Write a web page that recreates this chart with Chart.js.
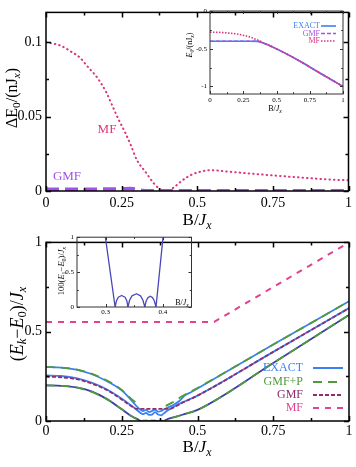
<!DOCTYPE html>
<html>
<head>
<meta charset="utf-8">
<script src="https://cdn.jsdelivr.net/npm/chart.js@4.4.0/dist/chart.umd.min.js"></script>
<style>
body { margin: 0; background: #fff; width: 356px; height: 467px; position: relative; overflow: hidden; }
canvas { position: absolute; }
</style>
</head>
<body>
<canvas id="top" width="356" height="235" style="left:0;top:0"></canvas>
<canvas id="topIn" width="178" height="120" style="left:178px;top:0"></canvas>
<canvas id="bot" width="356" height="237" style="left:0;top:230px"></canvas>
<canvas id="botIn" width="150" height="90" style="left:50px;top:230px"></canvas>
<script>
// ---- top panel: ground state energy error ----
var topMfB = [0, 0.05, 0.08, 0.11, 0.14, 0.17, 0.2, 0.22, 0.24, 0.26, 0.28, 0.3, 0.33, 0.355, 0.375, 0.39, 0.405, 0.42, 0.45, 0.485, 0.52, 0.54, 0.62, 0.73, 0.84, 0.95, 1];
var topMfV = [0.1, 0.0975, 0.094, 0.09, 0.083, 0.076, 0.066, 0.057, 0.048, 0.04, 0.031, 0.021, 0.0125, 0.0055, 0.0015, 0.0, 0.0005, 0.002, 0.007, 0.0113, 0.0134, 0.014, 0.0127, 0.0108, 0.0091, 0.0076, 0.0072];
var topGmfB = [0, 0.1, 0.2, 0.25, 0.28, 0.3, 0.32, 0.35, 0.4, 0.5, 0.75, 1];
var topGmfV = [0.0012, 0.0012, 0.0013, 0.0015, 0.0017, 0.0012, 0.0004, 0.0002, 0.0001, 0.0002, 0.0002, 0.0002];

// top inset: E0/(nJx)
var inExactB = [0, 0.1, 0.2, 0.3, 0.36, 0.4, 0.45, 0.5, 0.6, 0.7, 0.8, 0.9, 1];
var inExactV = [-0.4, -0.4, -0.4, -0.4, -0.402, -0.425, -0.46, -0.502, -0.592, -0.69, -0.795, -0.897, -1.0];
var inGmfB = [0, 0.1, 0.2, 0.3, 0.36, 0.4, 0.45, 0.5, 0.6, 0.7, 0.8, 0.9, 1];
var inGmfV = [-0.4, -0.4, -0.4, -0.4, -0.402, -0.425, -0.46, -0.502, -0.592, -0.69, -0.795, -0.897, -1.0];
var inMfB = [0, 0.1, 0.2, 0.3, 0.37, 0.4, 0.45, 0.5, 0.6, 0.7, 0.8, 0.9, 1];
var inMfV = [-0.28, -0.287, -0.305, -0.345, -0.395, -0.42, -0.458, -0.5, -0.59, -0.69, -0.795, -0.897, -1.0];

// ---- bottom panel: excitation energies ----
var exact1B = [0, 0.05, 0.1, 0.15, 0.2, 0.25, 0.28, 0.3, 0.316, 0.322, 0.328, 0.334, 0.339, 0.346, 0.354, 0.361, 0.3685, 0.374, 0.378, 0.383, 0.388, 0.4, 0.42, 0.45, 0.5, 0.75, 1];
var exact1V = [0.2, 0.197, 0.188, 0.166, 0.124, 0.066, 0.03, 0.012, 0, 0.0014, 0.0017, 0.0014, 0, 0.0016, 0.0019, 0.0016, 0, 0.0013, 0.0016, 0.0013, 0, 0.01, 0.02, 0.035, 0.062, 0.325, 0.594];
var exact2B = [0, 0.05, 0.1, 0.15, 0.2, 0.25, 0.28, 0.3, 0.31, 0.32, 0.33, 0.34, 0.35, 0.36, 0.37, 0.38, 0.39, 0.4, 0.42, 0.45, 0.5, 0.75, 1];
var exact2V = [0.255, 0.252, 0.24, 0.215, 0.178, 0.125, 0.088, 0.062, 0.048, 0.038, 0.046, 0.034, 0.036, 0.05, 0.036, 0.032, 0.044, 0.058, 0.078, 0.104, 0.142, 0.387, 0.632];
var exact3B = [0, 0.05, 0.1, 0.15, 0.2, 0.25, 0.27, 0.29, 0.3, 0.31, 0.32, 0.33, 0.34, 0.35, 0.36, 0.37, 0.38, 0.39, 0.4, 0.42, 0.44, 0.46, 0.48, 0.5, 0.75, 1];
var exact3V = [0.302, 0.299, 0.288, 0.263, 0.224, 0.172, 0.138, 0.1, 0.08, 0.066, 0.056, 0.062, 0.05, 0.056, 0.064, 0.052, 0.056, 0.066, 0.074, 0.09, 0.112, 0.145, 0.162, 0.182, 0.428, 0.67];
var gmfpHiB = [0, 0.05, 0.1, 0.15, 0.2, 0.25, 0.27, 0.29, 0.3, 0.31, 0.395, 0.42, 0.45, 0.5, 0.75, 1];
var gmfpHiV = [0.302, 0.299, 0.289, 0.265, 0.228, 0.174, 0.142, 0.112, 0.1, null, 0.085, 0.106, 0.14, 0.185, 0.428, 0.67];
var gmfpLoB = [0, 0.1, 0.2, 0.25, 0.28, 0.3, 0.32, 0.39, 0.42, 0.45, 0.5, 0.75, 1];
var gmfpLoV = [0.2, 0.188, 0.124, 0.066, 0.03, 0.012, 0, 0, 0.02, 0.035, 0.062, 0.325, 0.594];
var gmfB = [0, 0.05, 0.1, 0.15, 0.2, 0.25, 0.28, 0.3, 0.35, 0.41, 0.42, 0.45, 0.5, 0.75, 1];
var gmfV = [0.248, 0.245, 0.234, 0.21, 0.174, 0.121, 0.085, 0.068, 0.068, 0.068, 0.075, 0.102, 0.142, 0.387, 0.632];
var mfB = [0, 0.555, 1];
var mfV = [0.555, 0.555, 1];

// bottom inset: 100(E1-E0)/Jx
var gapB = [0.297, 0.3166, 0.319, 0.322, 0.328, 0.334, 0.337, 0.339, 0.342, 0.346, 0.354, 0.361, 0.365, 0.3685, 0.371, 0.374, 0.378, 0.382, 0.385, 0.388, 0.4015];
var gapV = [1.15, 0, 0.09, 0.14, 0.165, 0.14, 0.09, 0, 0.1, 0.16, 0.19, 0.16, 0.1, 0, 0.09, 0.135, 0.155, 0.135, 0.09, 0, 1.1];

// tick labels
var mainXTicks = [0, 0.25, 0.5, 0.75, 1];
var mainXLabels = ['0', '0.25', '0.5', '0.75', '1'];
var topYTicks = [0, 0.05, 0.1];
var topYLabels = ['0', '0.05', '0.1'];
var botYTicks = [0, 0.5, 1];
var botYLabels = ['0', '0.5', '1'];
var inTopYTicks = [-1, -0.5, 0];
var inTopYLabels = ['-1', '-0.5', '0'];
var inBotXTicks = [0.3, 0.4];
var inBotXLabels = ['0.3', '0.4'];

var SERIF = '"Liberation Serif", "DejaVu Serif", serif';
var BLUE = '#3b82f0', GREEN = '#4f9a3a', GMFC = '#8e2c6e', PINK = '#e0448f';
var NAVY = '#3d3da6', PURPLE = '#a252e8', MAG = '#d9367f';

function pts(xs, ys) {
  return xs.map(function (x, i) { return { x: x, y: ys[i] }; });
}

// text with italic / subscript runs
function runFont(p, size) {
  var it = p[1].indexOf('i') >= 0;
  var sub = p[1].indexOf('s') >= 0;
  return (it ? 'italic ' : '') + (sub ? size * 0.7 : size) + 'px ' + SERIF;
}
function drawRich(ctx, parts, x, y, size, color, rot, align) {
  ctx.save();
  var w = 0;
  parts.forEach(function (p) { ctx.font = runFont(p, size); w += ctx.measureText(p[0]).width; });
  ctx.translate(x, y);
  if (rot) ctx.rotate(rot);
  var cx = align === 'left' ? 0 : (align === 'right' ? -w : -w / 2);
  ctx.textAlign = 'left';
  ctx.textBaseline = 'middle';
  ctx.fillStyle = color || '#000';
  parts.forEach(function (p) {
    ctx.font = runFont(p, size);
    var dy = p[1].indexOf('s') >= 0 ? size * 0.28 : 0;
    ctx.fillText(p[0], cx, dy);
    cx += ctx.measureText(p[0]).width;
  });
  ctx.restore();
}

// box frame and inward tick marks
function frameAndTicks(chart, o) {
  var ctx = chart.ctx, a = chart.chartArea, sx = chart.scales.x, sy = chart.scales.y;
  ctx.save();
  ctx.strokeStyle = o.frameColor || '#000';
  ctx.lineWidth = o.lw;
  ctx.beginPath();
  function xt(vals, len) {
    vals.forEach(function (v) {
      var px = Math.round(sx.getPixelForValue(v)) + 0.5;
      ctx.moveTo(px, a.bottom); ctx.lineTo(px, a.bottom - len);
      ctx.moveTo(px, a.top); ctx.lineTo(px, a.top + len);
    });
  }
  function yt(vals, len) {
    vals.forEach(function (v) {
      var py = Math.round(sy.getPixelForValue(v)) + 0.5;
      ctx.moveTo(a.left, py); ctx.lineTo(a.left + len, py);
      ctx.moveTo(a.right, py); ctx.lineTo(a.right - len, py);
    });
  }
  xt(o.xMajor, o.tl); xt(o.xMinor, o.tl * 0.6);
  yt(o.yMajor, o.tl); yt(o.yMinor, o.tl * 0.6);
  ctx.stroke();
  ctx.strokeRect(a.left, a.top, a.right - a.left, a.bottom - a.top);
  ctx.restore();
}

function legendRow(ctx, text, color, y, tx, x0, x1, dash, lw, fs) {
  ctx.save();
  ctx.font = fs + 'px ' + SERIF;
  ctx.fillStyle = color;
  ctx.textAlign = 'right';
  ctx.textBaseline = 'middle';
  ctx.fillText(text, tx, y);
  ctx.strokeStyle = color;
  ctx.lineWidth = lw;
  ctx.setLineDash(dash);
  ctx.beginPath();
  ctx.moveTo(x0, y); ctx.lineTo(x1, y);
  ctx.stroke();
  ctx.restore();
}

function buildChart(id, datasets, o) {
  return new Chart(document.getElementById(id), {
    type: 'line',
    data: { datasets: datasets },
    options: {
      responsive: false,
      animation: false,
      devicePixelRatio: 1,
      events: [],
      layout: { padding: o.pad },
      plugins: { legend: { display: false }, tooltip: { enabled: false } },
      elements: { point: { radius: 0 }, line: { cubicInterpolationMode: 'monotone', borderJoinStyle: 'round' } },
      scales: {
        x: {
          type: 'linear', min: o.x[0], max: o.x[1],
          grid: { display: false, drawTicks: false }, border: { display: false },
          afterFit: function (s) { s.height = o.xH; },
          afterBuildTicks: function (s) { s.ticks = o.xTicks.map(function (v) { return { value: v }; }); },
          ticks: {
            padding: o.xPad, autoSkip: false, maxRotation: 0, color: '#000',
            font: { family: SERIF, size: o.fs },
            callback: function (v, i) { return o.xLabels[i]; }
          }
        },
        y: {
          type: 'linear', min: o.y[0], max: o.y[1],
          grid: { display: false, drawTicks: false }, border: { display: false },
          afterFit: function (s) { s.width = o.yW; },
          afterBuildTicks: function (s) { s.ticks = o.yTicks.map(function (v) { return { value: v }; }); },
          ticks: {
            padding: o.yPad, autoSkip: false, color: '#000',
            font: { family: SERIF, size: o.fs },
            callback: function (v, i) { return o.yLabels[i]; }
          }
        }
      }
    },
    plugins: [{
      id: 'deco',
      afterDraw: function (c) {
        frameAndTicks(c, o);
        if (o.extra) o.extra(c.ctx, c);
      }
    }]
  });
}

var BJ = [['B/', 'n'], ['J', 'i'], ['x', 'si']];

// top main chart
buildChart('top', [
  { data: pts(topGmfB, topGmfV), borderColor: PURPLE, borderWidth: 3.5, borderDash: [13, 6] },
  { data: pts(topMfB, topMfV), borderColor: MAG, borderWidth: 2, borderDash: [0.5, 4], borderCapStyle: 'round' }
], {
  pad: { left: 0, right: 7, top: 5, bottom: 0 }, yW: 46, xH: 44,
  x: [0, 1], y: [0, 0.12], fs: 14, xPad: 4, yPad: 4, lw: 1.5, tl: 5,
  xTicks: mainXTicks, xLabels: mainXLabels, yTicks: topYTicks, yLabels: topYLabels,
  xMajor: mainXTicks, xMinor: [0.125, 0.375, 0.625, 0.875],
  yMajor: topYTicks, yMinor: [0.025, 0.075],
  extra: function (ctx) {
    drawRich(ctx, [['ΔE', 'n'], ['0', 's'], ['/(nJ', 'n'], ['x', 'si'], [')', 'n']], 13, 98, 16, '#000', -Math.PI / 2);
    drawRich(ctx, BJ, 197, 221, 17, '#000');
    drawRich(ctx, [['MF', 'n']], 107, 130, 13, MAG);
    drawRich(ctx, [['GMF', 'n']], 67, 177, 13, PURPLE);
  }
});

// top inset chart
buildChart('topIn', [
  { data: pts(inMfB, inMfV), borderColor: MAG, borderWidth: 1.6, borderDash: [1.5, 1.5] },
  { data: pts(inGmfB, inGmfV), borderColor: PURPLE, borderWidth: 1.6, borderDash: [4, 2] },
  { data: pts(inExactB, inExactV), borderColor: BLUE, borderWidth: 1.6 }
], {
  pad: { left: 0, right: 13, top: 11, bottom: 0 }, yW: 32, xH: 26,
  x: [0, 1], y: [-1.1, 0], fs: 7, xPad: 2, yPad: 3, lw: 1, tl: 3, frameColor: '#333',
  xTicks: mainXTicks, xLabels: mainXLabels, yTicks: inTopYTicks, yLabels: inTopYLabels,
  xMajor: mainXTicks, xMinor: [0.125, 0.375, 0.625, 0.875],
  yMajor: inTopYTicks, yMinor: [-0.75, -0.25],
  extra: function (ctx) {
    drawRich(ctx, [['E', 'i'], ['0', 's'], ['/(nJ', 'n'], ['x', 'si'], [')', 'n']], 12, 45, 8, '#000', -Math.PI / 2);
    drawRich(ctx, BJ, 97, 109, 8, '#000');
    legendRow(ctx, 'EXACT', BLUE, 26, 142, 143, 158, [], 1.6, 8);
    legendRow(ctx, 'GMF', PURPLE, 33.5, 142, 143, 158, [4, 2], 1.6, 8);
    legendRow(ctx, 'MF', MAG, 41, 142, 143, 158, [1.5, 1.5], 1.6, 8);
  }
});

// bottom main chart
buildChart('bot', [
  { data: pts(mfB, mfV), borderColor: PINK, borderWidth: 2, borderDash: [6, 6], tension: 0, cubicInterpolationMode: 'default' },
  { data: pts(gmfB, gmfV), borderColor: GMFC, borderWidth: 1.8, borderDash: [4, 2] },
  { data: pts(gmfpHiB, gmfpHiV), borderColor: GREEN, borderWidth: 1.8, borderDash: [9, 6], spanGaps: false },
  { data: pts(gmfpLoB, gmfpLoV), borderColor: GREEN, borderWidth: 1.8, borderDash: [9, 6] },
  { data: pts(exact3B, exact3V), borderColor: BLUE, borderWidth: 1.8 },
  { data: pts(exact2B, exact2V), borderColor: BLUE, borderWidth: 1.8 },
  { data: pts(exact1B, exact1V), borderColor: NAVY, borderWidth: 1.8 }
], {
  pad: { left: 0, right: 7, top: 4, bottom: 0 }, yW: 46, xH: 46,
  x: [0, 1], y: [0, 1], fs: 14, xPad: 2, yPad: 4, lw: 1.5, tl: 5,
  xTicks: mainXTicks, xLabels: mainXLabels, yTicks: botYTicks, yLabels: botYLabels,
  xMajor: mainXTicks, xMinor: [0.125, 0.375, 0.625, 0.875],
  yMajor: botYTicks, yMinor: [0.25, 0.75],
  extra: function (ctx) {
    drawRich(ctx, [['(', 'n'], ['E', 'i'], ['k', 'si'], ['−', 'n'], ['E', 'i'], ['0', 's'], [')/', 'n'], ['J', 'i'], ['x', 'si']], 18, 94, 18, '#000', -Math.PI / 2);
    drawRich(ctx, BJ, 197, 218, 17, '#000');
    legendRow(ctx, 'EXACT', BLUE, 138, 303, 313, 343, [], 2, 12);
    legendRow(ctx, 'GMF+P', GREEN, 152, 303, 313, 343, [9, 6], 2, 12);
    legendRow(ctx, 'GMF', GMFC, 165, 303, 313, 343, [4, 2], 2, 12);
    legendRow(ctx, 'MF', PINK, 178, 303, 313, 343, [6, 6], 2, 12);
  }
});

// bottom inset chart
buildChart('botIn', [
  { data: pts(gapB, gapV), borderColor: '#4848b8', borderWidth: 1.3, tension: 0, cubicInterpolationMode: 'default' }
], {
  pad: { left: 0, right: 8.5, top: 6, bottom: 0 }, yW: 27, xH: 13,
  x: [0.25, 0.45], y: [0, 1], fs: 7, xPad: 1, yPad: 3, lw: 1, tl: 3, frameColor: '#333',
  xTicks: inBotXTicks, xLabels: inBotXLabels, yTicks: botYTicks, yLabels: botYLabels,
  xMajor: [0.3, 0.4], xMinor: [0.35],
  yMajor: botYTicks, yMinor: [0.25, 0.75],
  extra: function (ctx) {
    drawRich(ctx, [['100(', 'n'], ['E', 'i'], ['1', 's'], ['−', 'n'], ['E', 'i'], ['0', 's'], [')/', 'n'], ['J', 'i'], ['x', 'si']], 12, 41, 8.5, '#000', -Math.PI / 2);
    drawRich(ctx, BJ, 132, 73, 8, '#000');
  }
});
</script>
</body>
</html>
